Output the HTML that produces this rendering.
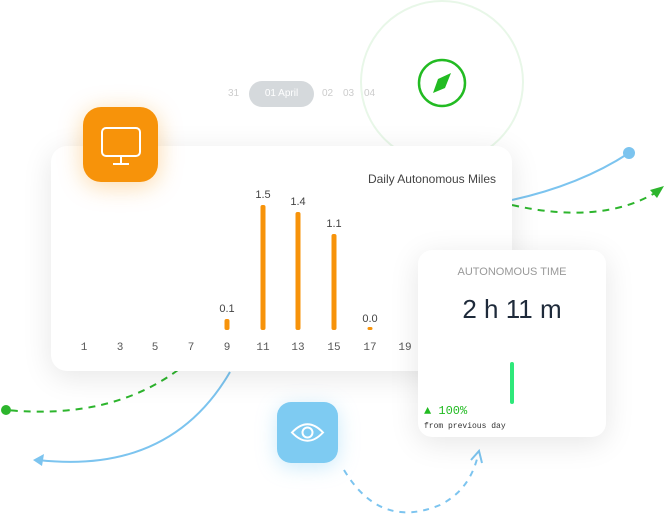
<!DOCTYPE html>
<html><head><meta charset="utf-8"><style>
body{margin:0;width:666px;height:523px;background:#fff;position:relative;overflow:hidden;font-family:"Liberation Sans",sans-serif}
.abs{position:absolute}
.card{position:absolute;background:#fff;border-radius:16px;box-shadow:0 6px 30px rgba(0,0,0,0.10)}
.lbl{position:absolute;font-size:11px;color:#555;transform:translateX(-50%);font-family:"Liberation Mono",monospace}
.val{position:absolute;font-size:11px;color:#444;transform:translateX(-50%)}
.bar{position:absolute;width:5px;background:#f7930a;border-radius:2px;transform:translateX(-50%)}
</style></head><body>
<svg class="abs" style="left:0;top:0" width="666" height="523">
<circle cx="442" cy="82" r="81" fill="none" stroke="#e8f7e8" stroke-width="2"/>
<path d="M512 200 Q580 185 629 153" fill="none" stroke="#7cc4ef" stroke-width="2"/>
<circle cx="629" cy="153" r="6" fill="#7cc4ef"/>
<path d="M512 205 Q600 225 655 193" fill="none" stroke="#2db52d" stroke-width="2" stroke-dasharray="7 6"/>
<path d="M664 186 L650 190 L657 198 Z" fill="#2db52d"/>
<path d="M178 370 Q110 420 6 410" fill="none" stroke="#2db52d" stroke-width="2" stroke-dasharray="7 6"/>
<circle cx="6" cy="410" r="5" fill="#2db52d"/>
<path d="M230 372 Q170 475 38 460" fill="none" stroke="#7cc4ef" stroke-width="2"/>
<path d="M33 460 L44 454 L42 466 Z" fill="#7cc4ef"/>
<path d="M344 470 Q380 530 440 505 Q470 490 478 455" fill="none" stroke="#7cc4ef" stroke-width="2" stroke-dasharray="6 6"/>
<path d="M471 460 L479 451 L482 463" fill="none" stroke="#7cc4ef" stroke-width="2"/>
</svg>
<div class="abs" style="left:249px;top:81px;width:65px;height:26px;border-radius:13px;background:#d5d9dc;color:#fff;font-size:10px;line-height:26px;text-align:center">01 April</div>
<div class="abs" style="left:228px;top:88px;font-size:10px;color:#ccc">31</div>
<div class="abs" style="left:322px;top:88px;font-size:10px;color:#ccc">02</div>
<div class="abs" style="left:343px;top:88px;font-size:10px;color:#ccc">03</div>
<div class="abs" style="left:364px;top:88px;font-size:10px;color:#ccc">04</div>
<svg class="abs" style="left:416px;top:57px" width="52" height="52"><circle cx="26" cy="26" r="23" fill="#fff" stroke="#22bb22" stroke-width="2.5"/><path d="M35 16 L29 31 L17 36 L22 22 Z" fill="#22bb22"/></svg>
<div class="card" style="left:51px;top:146px;width:461px;height:225px">
<div class="abs" style="right:16px;top:26px;font-size:12px;color:#444">Daily Autonomous Miles</div>
</div>
<div class="abs" style="left:51px;top:146px;width:461px;height:225px">
<div class="bar" style="left:176px;top:173px;height:11px"></div>
<div class="bar" style="left:212px;top:59px;height:125px"></div>
<div class="bar" style="left:247px;top:66px;height:118px"></div>
<div class="bar" style="left:283px;top:88px;height:96px"></div>
<div class="bar" style="left:319px;top:181px;height:3px"></div>
<div class="val" style="left:176px;top:157px">0.1</div>
<div class="val" style="left:212px;top:43px">1.5</div>
<div class="val" style="left:247px;top:50px">1.4</div>
<div class="val" style="left:283px;top:72px">1.1</div>
<div class="val" style="left:319px;top:167px">0.0</div>
<div class="lbl" style="left:33px;top:196px">1</div><div class="lbl" style="left:69px;top:196px">3</div><div class="lbl" style="left:104px;top:196px">5</div><div class="lbl" style="left:140px;top:196px">7</div><div class="lbl" style="left:176px;top:196px">9</div><div class="lbl" style="left:212px;top:196px">11</div><div class="lbl" style="left:247px;top:196px">13</div><div class="lbl" style="left:283px;top:196px">15</div><div class="lbl" style="left:319px;top:196px">17</div><div class="lbl" style="left:354px;top:196px">19</div>
</div>
<div class="abs" style="left:83px;top:107px;width:75px;height:75px;border-radius:18px;background:#f7930a;box-shadow:0 4px 24px rgba(247,147,10,0.35)">
<svg width="75" height="75"><rect x="19" y="21" width="38" height="28" rx="4" fill="none" stroke="#fff" stroke-width="2"/><path d="M38 49 V56 M30 57 H46" stroke="#fff" stroke-width="2"/></svg></div>
<div class="card" style="left:418px;top:250px;width:188px;height:187px;border-radius:14px">
<div class="abs" style="left:0;width:188px;top:16px;text-align:center;font-size:11px;color:#999">AUTONOMOUS TIME</div>
<div class="abs" style="left:0;width:188px;top:44px;text-align:center;font-size:26px;color:#1e2a3a">2 h 11 m</div>
<div class="abs" style="left:92px;top:112px;width:4px;height:42px;background:#2ee87a;border-radius:2px"></div>
<div class="abs" style="left:6px;top:154px;font-size:12px;color:#22bb22;font-family:'Liberation Mono',monospace">▲ 100%</div>
<div class="abs" style="left:6px;top:172px;font-size:8px;color:#333;font-family:'Liberation Mono',monospace">from previous day</div>
</div>
<div class="abs" style="left:277px;top:402px;width:61px;height:61px;border-radius:14px;background:#7ecbf2;box-shadow:0 4px 20px rgba(126,203,242,0.4)">
<svg width="61" height="61"><path d="M15 30.5 Q30.5 14 46 30.5 Q30.5 47 15 30.5 Z" fill="none" stroke="#fff" stroke-width="2"/><circle cx="30.5" cy="30.5" r="5" fill="none" stroke="#fff" stroke-width="2"/></svg></div>
</body></html>
